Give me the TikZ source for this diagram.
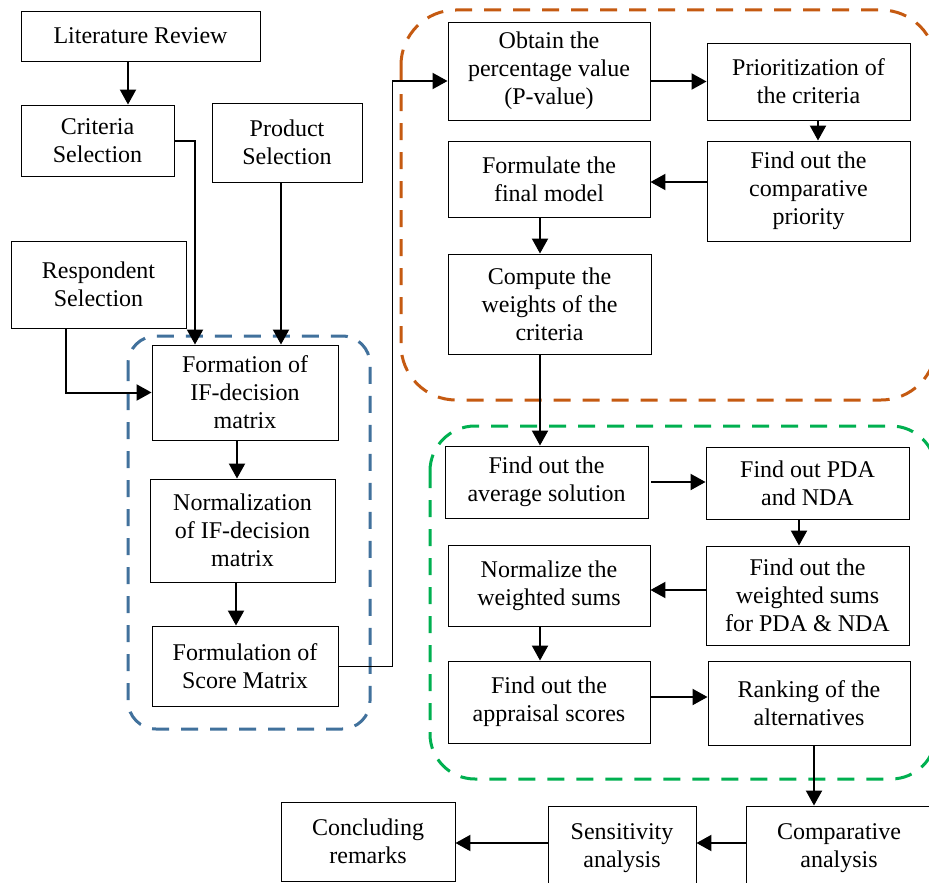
\documentclass[tikz,border=0pt]{standalone}
\usepackage{fontspec}
\setmainfont{Liberation Serif}
\usetikzlibrary{arrows.meta,positioning}
\definecolor{zoneblue}{RGB}{65,113,156}
\definecolor{zoneorange}{RGB}{197,90,17}
\definecolor{zonegreen}{RGB}{0,176,80}

\begin{document}
\begin{tikzpicture}[x=1pt,y=-1pt,
  box/.style={draw, line width=0.9pt, fill=white, align=center, inner sep=0pt,
    font=\fontsize{24}{28}\selectfont},
  arr/.style={line width=2pt, -{Triangle[length=15pt,width=16pt]}},
  link/.style={line width=1pt},
  zone/.style={line width=3pt, dash pattern=on 17pt off 12pt, rounded corners=#1}]
  \useasboundingbox (0,0) rectangle (929,883);
  \clip (0,0) rectangle (929,883);
  \fill[white] (0,0) rectangle (929,883);

  % dashed groups
  \draw[zone=28pt, zoneblue] (128,336) rectangle (370,729);
  \draw[zone=55pt, zoneorange] (401,10) rectangle (936,400);
  \draw[zone=45pt, zonegreen] (430,426) rectangle (936,779);

  \node[box, minimum width=239, minimum height=50] (litrev) at (140.5,36) {Literature Review};
  \node[box, minimum width=153, minimum height=71] (critsel) at (97.5,140.5) {Criteria\\Selection};
  \node[box, minimum width=150, minimum height=79] (prodsel) at (287,142.5) {Product\\Selection};
  \node[box, minimum width=175, minimum height=87] (respsel) at (98.5,284.5) {Respondent\\Selection};
  \node[box, minimum width=186, minimum height=95] (ifmat) at (245,392.5) {Formation of\\IF-decision\\matrix};
  \node[box, minimum width=185, minimum height=103] (normmat) at (242.5,530.5) {Normalization\\of IF-decision\\matrix};
  \node[box, minimum width=186, minimum height=80] (scoremat) at (245,666) {Formulation of\\Score Matrix};

  \node[box, minimum width=202, minimum height=98] (pvalue) at (549,71) {Obtain the\\percentage value\\(P-value)};
  \node[box, minimum width=203, minimum height=77] (prio) at (808.5,81.5) {Prioritization of\\the criteria};
  \node[box, minimum width=203, minimum height=100] (comppri) at (808.5,191) {Find out the\\comparative\\priority};
  \node[box, minimum width=202, minimum height=76] (finmod) at (549,179) {Formulate the\\final model};
  \node[box, minimum width=203, minimum height=100] (weights) at (549.5,304) {Compute the\\weights of the\\criteria};

  \node[box, minimum width=203, minimum height=72] (avgsol) at (546.5,482) {Find out the\\average solution};
  \node[box, minimum width=203, minimum height=72] (pdanda) at (807.5,483) {Find out PDA\\and NDA};
  \node[box, minimum width=203, minimum height=99] (wsums) at (807.5,595.5) {Find out the\\weighted sums\\for PDA \& NDA};
  \node[box, minimum width=202, minimum height=81] (normsums) at (549,585.5) {Normalize the\\weighted sums};
  \node[box, minimum width=202, minimum height=82] (apprais) at (549,702) {Find out the\\appraisal scores};
  \node[box, minimum width=202, minimum height=84] (ranking) at (809,703) {Ranking of the\\alternatives};

  \node[box, minimum width=186, minimum height=84] (companal) at (839,848) {Comparative\\analysis};
  \node[box, minimum width=148, minimum height=84] (sensanal) at (622,848) {Sensitivity\\analysis};
  \node[box, minimum width=174, minimum height=79] (conclude) at (368,841.5) {Concluding\\remarks};

  \draw[arr] ([xshift=-12.5pt]litrev.south) -- ([xshift=-12.5pt]litrev.south |- critsel.north);
  \draw[arr] (critsel.east) -| ([xshift=-50pt]ifmat.north);
  \draw[arr] ([xshift=-6pt]prodsel.south) -- ([xshift=-6pt]prodsel.south |- ifmat.north);
  \draw[arr] ([xshift=-32.5pt]respsel.south) |- (ifmat.west);
  \draw[arr] ([xshift=-8pt]ifmat.south) -- ([xshift=-8pt]ifmat.south |- normmat.north);
  \draw[arr] ([xshift=-6.5pt]normmat.south) -- ([xshift=-6.5pt]normmat.south |- scoremat.north);
  \coordinate (jump) at (392,81);
  \draw[link] (scoremat.east) -| (jump);
  \draw[arr] (jump) -- (jump -| pvalue.west);

  \draw[arr] (pvalue.east |- prio.west) -- (prio.west);
  \draw[arr] ([xshift=9.5pt]prio.south) -- ([xshift=9.5pt]prio.south |- comppri.north);
  \draw[arr] ([yshift=9pt]comppri.west) -- ([yshift=9pt]comppri.west -| finmod.east);
  \draw[arr] ([xshift=-9pt]finmod.south) -- ([xshift=-9pt]finmod.south |- weights.north);
  \draw[arr] ([xshift=-9.5pt]weights.south) -- ([xshift=-9.5pt]weights.south |- avgsol.north);

  \draw[arr] ([xshift=3pt]avgsol.east) -- (avgsol.east -| pdanda.west);
  \draw[arr] ([xshift=-8.5pt]pdanda.south) -- ([xshift=-8.5pt]pdanda.south |- wsums.north);
  \draw[arr] ([yshift=5.5pt]wsums.west) -- ([yshift=5.5pt]wsums.west -| normsums.east);
  \draw[arr] ([xshift=-9pt]normsums.south) -- ([xshift=-9pt]normsums.south |- apprais.north);
  \draw[arr] ([yshift=5pt]apprais.east) -- ([yshift=5pt]apprais.east -| ranking.west);
  \draw[arr] ([xshift=5pt]ranking.south) -- ([xshift=5pt]ranking.south |- companal.north);
  \draw[arr] ([yshift=5pt]companal.west) -- ([yshift=5pt]companal.west -| sensanal.east);
  \draw[arr] ([yshift=5pt]sensanal.west) -- ([yshift=5pt]sensanal.west -| conclude.east);
\end{tikzpicture}
\end{document}
